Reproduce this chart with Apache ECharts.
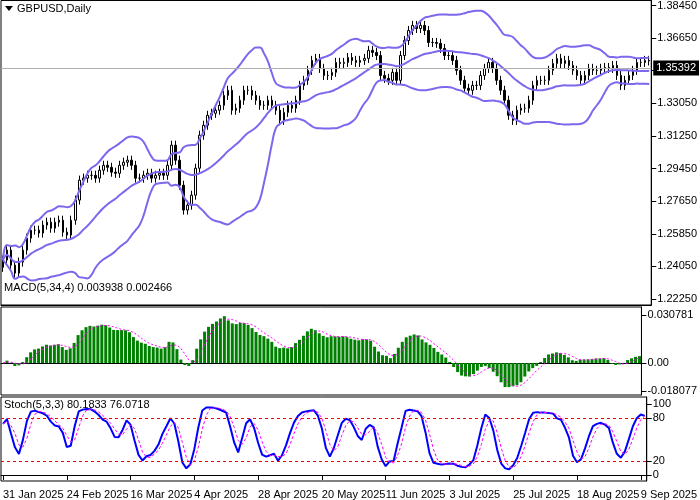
<!DOCTYPE html>
<html><head><meta charset="utf-8">
<script src="https://cdn.jsdelivr.net/npm/echarts@6/dist/echarts.min.js"></script>
<style>html,body{margin:0;padding:0;background:#fff}#c{width:700px;height:500px}</style>
</head><body><div id="c"></div>
<script>
const closes = [1.2440,1.2495,1.2412,1.2368,1.2429,1.2495,1.2561,1.2605,1.2605,1.2589,1.2633,1.2649,1.2616,1.2649,1.2660,1.2594,1.2578,1.2660,1.2771,1.2881,1.2892,1.2908,1.2908,1.2892,1.2936,1.2963,1.2952,1.2925,1.2919,1.2963,1.2980,1.2991,1.2963,1.2892,1.2892,1.2908,1.2919,1.2892,1.2908,1.2919,1.2908,1.2963,1.3074,1.2991,1.2853,1.2716,1.2743,1.2798,1.2947,1.3129,1.3184,1.3239,1.3250,1.3267,1.3294,1.3349,1.3377,1.3267,1.3278,1.3322,1.3377,1.3377,1.3349,1.3322,1.3294,1.3294,1.3322,1.3294,1.3267,1.3211,1.3255,1.3294,1.3278,1.3322,1.3404,1.3432,1.3487,1.3542,1.3553,1.3498,1.3459,
1.3459,1.3476,1.3531,1.3525,1.3531,1.3558,1.3542,1.3531,1.3542,1.3553,1.3597,1.3586,1.3569,1.3459,1.3443,1.3432,1.3476,1.3432,1.3569,1.3652,1.3707,1.3735,1.3718,1.3735,1.3707,1.3641,1.3641,1.3636,1.3608,1.3569,1.3569,1.3542,1.3487,1.3432,1.3388,1.3377,1.3404,1.3404,1.3459,1.3498,1.3531,1.3498,1.3432,1.3377,1.3322,1.3239,1.3211,1.3267,1.3278,1.3278,1.3322,1.3404,1.3432,1.3432,1.3432,1.3487,1.3525,1.3553,1.3525,1.3542,1.3514,1.3487,1.3459,1.3432,1.3459,1.3498,1.3487,1.3487,1.3498,1.3503,1.3498,1.3514,1.3459,1.3404,1.3432,1.3459,1.3487,1.3531,1.3531,1.3542,1.35392];
const dateLabels = ['31 Jan 2025','24 Feb 2025','16 Mar 2025','4 Apr 2025','28 Apr 2025','20 May 2025','11 Jun 2025','3 Jul 2025','25 Jul 2025','18 Aug 2025','9 Sep 2025'];
const priceTicks = [1.22250,1.24050,1.25850,1.27650,1.29450,1.31250,1.33050,1.34850,1.36650,1.38450];
const macdTicks = [-0.018077,0,0.030781];
const stochTicks = [0,20,80,100];
const lastPrice = 1.35392;

const n = closes.length, W = 0.0025;
const cats = closes.map((_, i) => i);
const opens = closes.map((c, i) => i ? closes[i-1] : 1.2400);
const highs = closes.map((c, i) => Math.max(c, opens[i]) + W);
const lows = closes.map((c, i) => Math.min(c, opens[i]) - W);
const ohlc = closes.map((c, i) => [opens[i], c, lows[i], highs[i]]);
// Bollinger 20,2
const mid=[],up=[],lo=[];
for(let i=0;i<n;i++){const s=closes.slice(Math.max(0,i-19),i+1);const m=s.reduce((a,b)=>a+b,0)/s.length;
 const sd=Math.sqrt(s.reduce((a,b)=>a+(b-m)*(b-m),0)/s.length);mid.push(m);up.push(m+2*sd);lo.push(m-2*sd);}
// MACD 5,34,4
function ema(a,p){const k=2/(p+1);const r=[];a.forEach((v,i)=>r.push(i?r[i-1]+k*(v-r[i-1]):v));return r;}
const e5=ema(closes,5),e34=ema(closes,34);const macd=e5.map((v,i)=>v-e34[i]);
const sig=macd.map((v,i)=>{const s=macd.slice(Math.max(0,i-3),i+1);return s.reduce((a,b)=>a+b,0)/s.length;});
// Stoch 5,3,3
const kRaw=[];for(let i=0;i<n;i++){let hh=0,ll=0;const a=Math.max(0,i-4);
 const num=[],den=[];for(let j=Math.max(0,i-2);j<=i;j++){const hs=highs.slice(Math.max(0,j-4),j+1),ls=lows.slice(Math.max(0,j-4),j+1);
 const H=Math.max(...hs),L=Math.min(...ls);num.push(closes[j]-L);den.push(H-L);}
 kRaw.push(100*num.reduce((x,y)=>x+y,0)/den.reduce((x,y)=>x+y,0));}
const dLine=kRaw.map((v,i)=>{const s=kRaw.slice(Math.max(0,i-2),i+1);return s.reduce((a,b)=>a+b,0)/s.length;});

const font='"Liberation Sans", Arial, sans-serif';
const lab={color:'#000',fontSize:11,fontFamily:font};
function xAx(idx,show){return {type:'category',gridIndex:idx,data:cats,boundaryGap:true,
 axisLine:{show:true,lineStyle:{color:'#000'}},axisTick:{show:show,alignWithLabel:true,interval:(i)=>i%16===0,lineStyle:{color:'#000'}},
 axisLabel:{show:show,...lab,align:'left',interval:(i)=>i%16===0,formatter:(v,i)=>dateLabels[i/16]||''},splitLine:{show:false}};}
function yAx(idx,min,max,ticks,fmt){return {type:'value',gridIndex:idx,position:'right',min,max,scale:true,
 axisLine:{show:true,lineStyle:{color:'#000'}},axisTick:{show:true,customValues:ticks,lineStyle:{color:'#000'}},
 axisLabel:{...lab,customValues:ticks,formatter:fmt,margin:6},splitLine:{show:false}};}
const chart=echarts.init(document.getElementById('c'));
chart.setOption({animation:false,backgroundColor:'#fff',
 graphic:[
  {type:'polygon',shape:{points:[[5,6],[13,6],[9,11]]},style:{fill:'#000'}},
  {type:'text',left:17,top:3,style:{text:'GBPUSD,Daily',font:'11px '+font,fill:'#000'}},
  {type:'text',left:4,top:282,style:{text:'MACD(5,34,4) 0.003938 0.002466',font:'11px '+font,fill:'#000'}},
  {type:'text',left:4,top:399,style:{text:'Stoch(5,3,3) 80.1833 76.0718',font:'11px '+font,fill:'#000'}}
 ],
 grid:[{left:1,right:45,top:0,height:305,show:true,borderColor:'#000',borderWidth:1},
  {left:1,right:45,top:307,height:88,show:true,borderColor:'#000',borderWidth:1},
  {left:1,right:45,top:397,height:84,show:true,borderColor:'#000',borderWidth:1}],
 xAxis:[xAx(0,false),xAx(1,false),xAx(2,true)],
 yAxis:[yAx(0,1.2192,1.38725,priceTicks,v=>v.toFixed(5)),
  yAx(1,-0.0205,0.0359,macdTicks,v=>v===0?'0.00':v.toFixed(6)),
  yAx(2,-8.5,110,stochTicks,v=>String(v))],
 series:[
  {type:'candlestick',xAxisIndex:0,yAxisIndex:0,data:ohlc,barMaxWidth:3,
   itemStyle:{color:'#fff',color0:'#000',borderColor:'#000',borderColor0:'#000',borderWidth:1},
   markLine:{silent:true,symbol:'none',data:[{yAxis:lastPrice}],lineStyle:{color:'#b0b0b0',type:'solid',width:1},
    label:{position:'end',formatter:'1.35392',backgroundColor:'#000',color:'#fff',fontSize:11,fontFamily:font,padding:[2,3],distance:2}}},
  ...[up,mid,lo].map(d=>({type:'line',xAxisIndex:0,yAxisIndex:0,data:d,symbol:'none',smooth:true,lineStyle:{color:'#7b68ee',width:2}})),
  {type:'bar',xAxisIndex:1,yAxisIndex:1,data:macd,barWidth:3,itemStyle:{color:'#008000'}},
  {type:'line',xAxisIndex:1,yAxisIndex:1,data:sig,symbol:'none',lineStyle:{color:'#ff00ff',width:1,type:[2,2]}},
  {type:'line',xAxisIndex:2,yAxisIndex:2,data:kRaw,symbol:'none',lineStyle:{color:'#0000ff',width:2},
   markLine:{silent:true,symbol:'none',label:{show:false},data:[{yAxis:80},{yAxis:20}],lineStyle:{color:'#ff0000',type:[3,3],width:1}}},
  {type:'line',xAxisIndex:2,yAxisIndex:2,data:dLine,symbol:'none',lineStyle:{color:'#ff00ff',width:1,type:[3,2]}}
 ]});
</script></body></html>
